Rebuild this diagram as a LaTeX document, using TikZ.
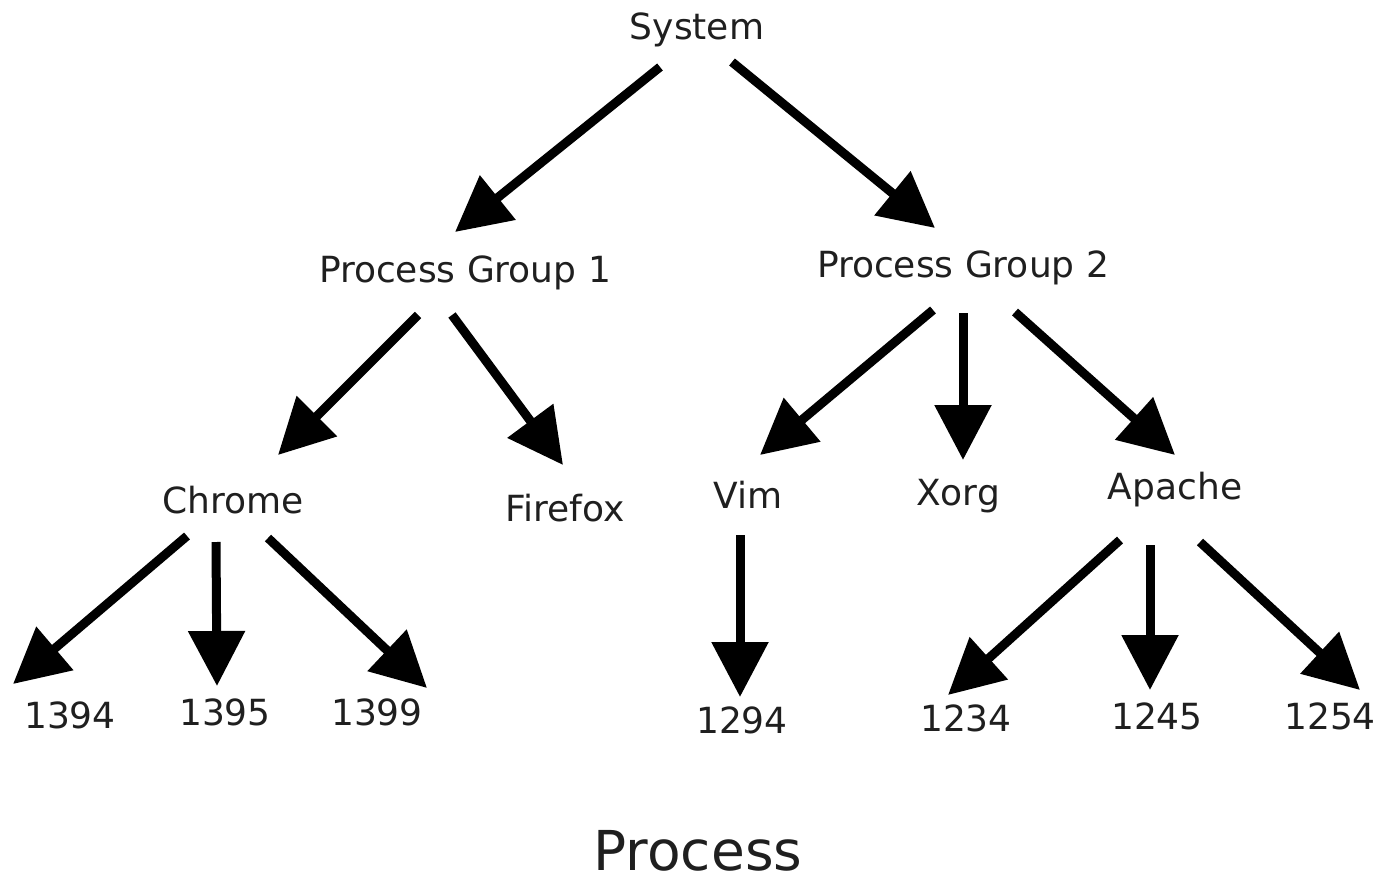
\documentclass[tikz,border=0pt]{standalone}
\usepackage{fontspec}
\setmainfont{DejaVu Sans}
\usetikzlibrary{arrows.meta,calc}

\begin{document}
\begin{tikzpicture}[x=1pt,y=-1pt,
	lbl/.style={inner sep=0pt, text=black!88, font=\fontsize{36}{43}\selectfont},
	arr/.style={line width=9pt, -{Triangle[length=55pt,width=55pt]}}]

\useasboundingbox (0,0) rectangle (1381,878);

% labels
\node[lbl] (sys) at (697,30) {System};
\node[lbl] (pg1) at (465,273) {Process Group 1};
\node[lbl] (pg2) at (963,268) {Process Group 2};
\node[lbl] (chr) at (233,500) {Chrome};
\node[lbl] (ffx) at (565,508) {Firefox};
\node[lbl] (vim) at (748,495) {Vim};
\node[lbl] (xorg) at (958,496) {Xorg};
\node[lbl] (apa) at (1175,490) {Apache};
\node[lbl] (p1394) at (70,715) {1394};
\node[lbl] (p1395) at (225,712) {1395};
\node[lbl] (p1399) at (377,712) {1399};
\node[lbl] (p1294) at (742,720) {1294};
\node[lbl] (p1234) at (966,718) {1234};
\node[lbl] (p1245) at (1157,716) {1245};
\node[lbl] (p1254) at (1330,716) {1254};
\node[inner sep=0pt, text=black!88, font=\fontsize{55}{66}\selectfont] (title) at (698,851) {Process};

% arrows
\draw[arr] ($(sys)+(-37,37)$) -- ($(pg1)+(-10,-41)$);
\draw[arr] ($(sys)+(35,32)$) -- ($(pg2)+(-28,-40)$);

\draw[arr] ($(pg1)+(-47,42)$) -- ($(chr)+(45,-45)$);
\draw[arr] ($(pg1)+(-13,42)$) -- ($(ffx)+(-2,-43)$);

\draw[arr] ($(pg2)+(-30,42)$) -- ($(vim)+(12,-40)$);
\draw[arr] ($(pg2)+(0,45)$) -- ($(xorg)+(5,-36)$);
\draw[arr] ($(pg2)+(52,44)$) -- ($(apa)+(0,-35)$);

\draw[arr] ($(chr)+(-46,36)$) -- ($(p1394)+(-57,-31)$);
\draw[arr] ($(chr)+(-17,42)$) -- ($(p1395)+(-8,-26)$);
\draw[arr] ($(chr)+(35,38)$) -- ($(p1399)+(50,-24)$);

\draw[arr] ($(vim)+(-8,40)$) -- ($(p1294)+(-2,-23)$);

\draw[arr] ($(apa)+(-55,50)$) -- ($(p1234)+(-18,-23)$);
\draw[arr] ($(apa)+(-25,55)$) -- ($(p1245)+(-7,-26)$);
\draw[arr] ($(apa)+(25,52)$) -- ($(p1254)+(30,-26)$);

\end{tikzpicture}
\end{document}
